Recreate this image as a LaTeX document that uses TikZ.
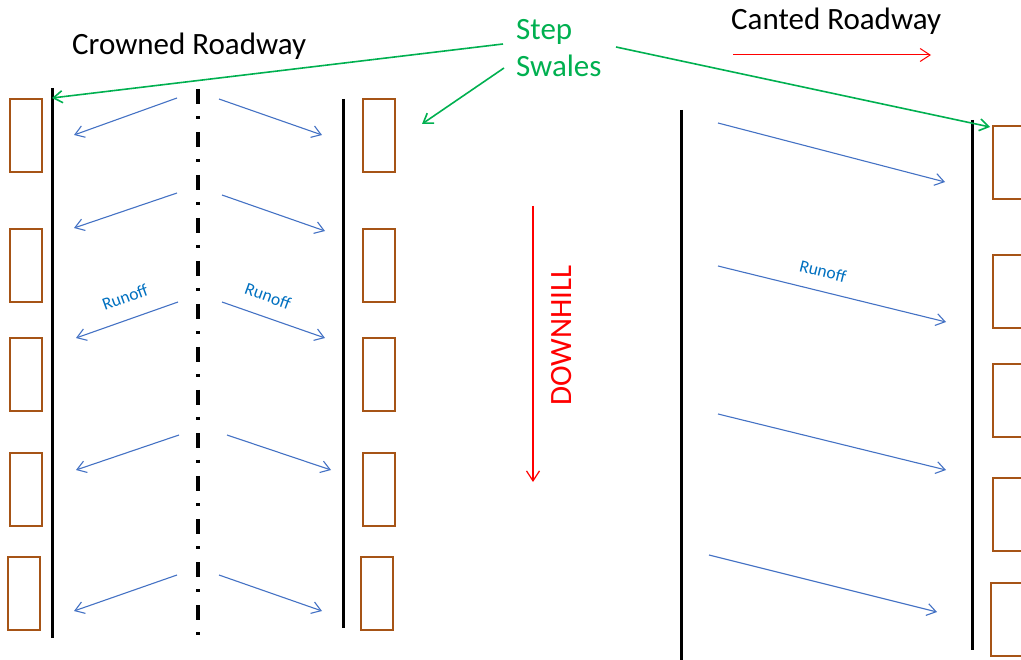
\documentclass[tikz,border=0pt]{standalone}
\usepackage{fontspec}
\setmainfont{Carlito}
\usepackage{xcolor}
\usetikzlibrary{arrows.meta}
\definecolor{swalegreen}{RGB}{0,176,80}
\definecolor{flowblue}{RGB}{68,114,196}
\definecolor{labelblue}{RGB}{0,112,192}
\definecolor{swalebrown}{RGB}{166,84,22}

\begin{document}
\begin{tikzpicture}[
	x=1pt, y=-1pt,
	curb/.style={line width=3pt, black},
	crown/.style={line width=4pt, dash pattern=on 15pt off 12pt on 3pt off 13pt},
	swale/.style={draw=swalebrown, line width=1.8pt},
	flow/.style={flowblue, line width=1.1pt, -{Straight Barb[length=9pt,width=12pt]}},
	pointer/.style={swalegreen, line width=1.6pt, -{Straight Barb[length=9pt,width=12pt]}},
	slope/.style={red, line width=1.2pt, -{Straight Barb[length=10pt,width=13pt]}},
	title/.style={inner sep=0pt, anchor=base west, font=\fontsize{31}{36}\selectfont},
	runofftxt/.style={inner sep=0pt, text=labelblue, font=\fontsize{17.5}{20}\selectfont}
]
\useasboundingbox (0,0) rectangle (1021,660);
\clip (0,0) rectangle (1021,660);

% titles
\node[title] (crowned) at (72,55) {Crowned Roadway};
\node[title] (canted) at (731,30) {Canted Roadway};
\node[title, text=swalegreen] (step) at (516,40) {Step};
\node[title, text=swalegreen] (swales) at (516,77) {Swales};
\node[title, text=red, rotate=90] (downhill) at (571,406) {DOWNHILL};

% crowned roadway
\draw[curb] (52,88) -- (52,638);
\draw[curb] (343,99) -- (343,628);
\draw[crown] (198,89) -- (198,636);
\foreach \y/\dx in {99/0,229/0,338/0,453/0,557/2} {
	\draw[swale] (10-\dx,\y) rectangle ++(32,73);
	\draw[swale] (363-\dx,\y) rectangle ++(32,73);
}
\foreach \i/\sx/\sy/\ex/\ey in {1/177/98/74/135, 2/177/193/74/228, 3/178/302/76/338, 4/179/435/76/470, 5/177/575/74/611} {
	\coordinate (ls\i) at (\sx,\sy);
	\coordinate (le\i) at (\ex,\ey);
	\draw[flow] (ls\i) -- (le\i);
}
\foreach \i/\sx/\sy/\ex/\ey in {1/219/99/322/135, 2/222/195/325/231, 3/222/302/325/338, 4/227/435/331/470, 5/219/575/322/611} {
	\coordinate (rs\i) at (\sx,\sy);
	\coordinate (re\i) at (\ex,\ey);
	\draw[flow] (rs\i) -- (re\i);
}
\node[runofftxt, rotate=20] (runoffl) at (125,297) {Runoff};
\node[runofftxt, rotate=-20] (runoffr) at (268,296) {Runoff};

% downhill
\coordinate (hilltop) at (533,206);
\coordinate (hillfoot) at (533,482);
\draw[slope] (hilltop) -- (hillfoot);

% canted roadway
\draw[curb] (681,110) -- (681,660);
\draw[curb] (972,120) -- (972,650);
\foreach \y/\dx in {126/0,255/0,364/0,478/0,583/2}
	\draw[swale] (993-\dx,\y) rectangle ++(32,73);
\foreach \i/\sx/\sy/\ex/\ey in {1/718/123/945/182, 2/718/266/946/322, 3/718/414/946/470, 4/709/555/937/612} {
	\coordinate (cs\i) at (\sx,\sy);
	\coordinate (ce\i) at (\ex,\ey);
	\draw[flow] (cs\i) -- (ce\i);
}
\node[runofftxt, rotate=-14] (runoffc) at (823,271) {Runoff};
\coordinate (cantfrom) at (733,55);
\coordinate (cantto) at (931,55);
\draw[slope, line width=1pt] (cantfrom) -- (cantto);

% step swale pointers
\coordinate (pl) at (503,44);
\coordinate (pm) at (504,68);
\coordinate (pr) at (616,47);
\coordinate (swl) at (52,98);
\coordinate (swm) at (422,124);
\coordinate (swr) at (990,127);
\draw[pointer] (pl) -- (swl);
\draw[pointer] (pm) -- (swm);
\draw[pointer] (pr) -- (swr);
\end{tikzpicture}
\end{document}
